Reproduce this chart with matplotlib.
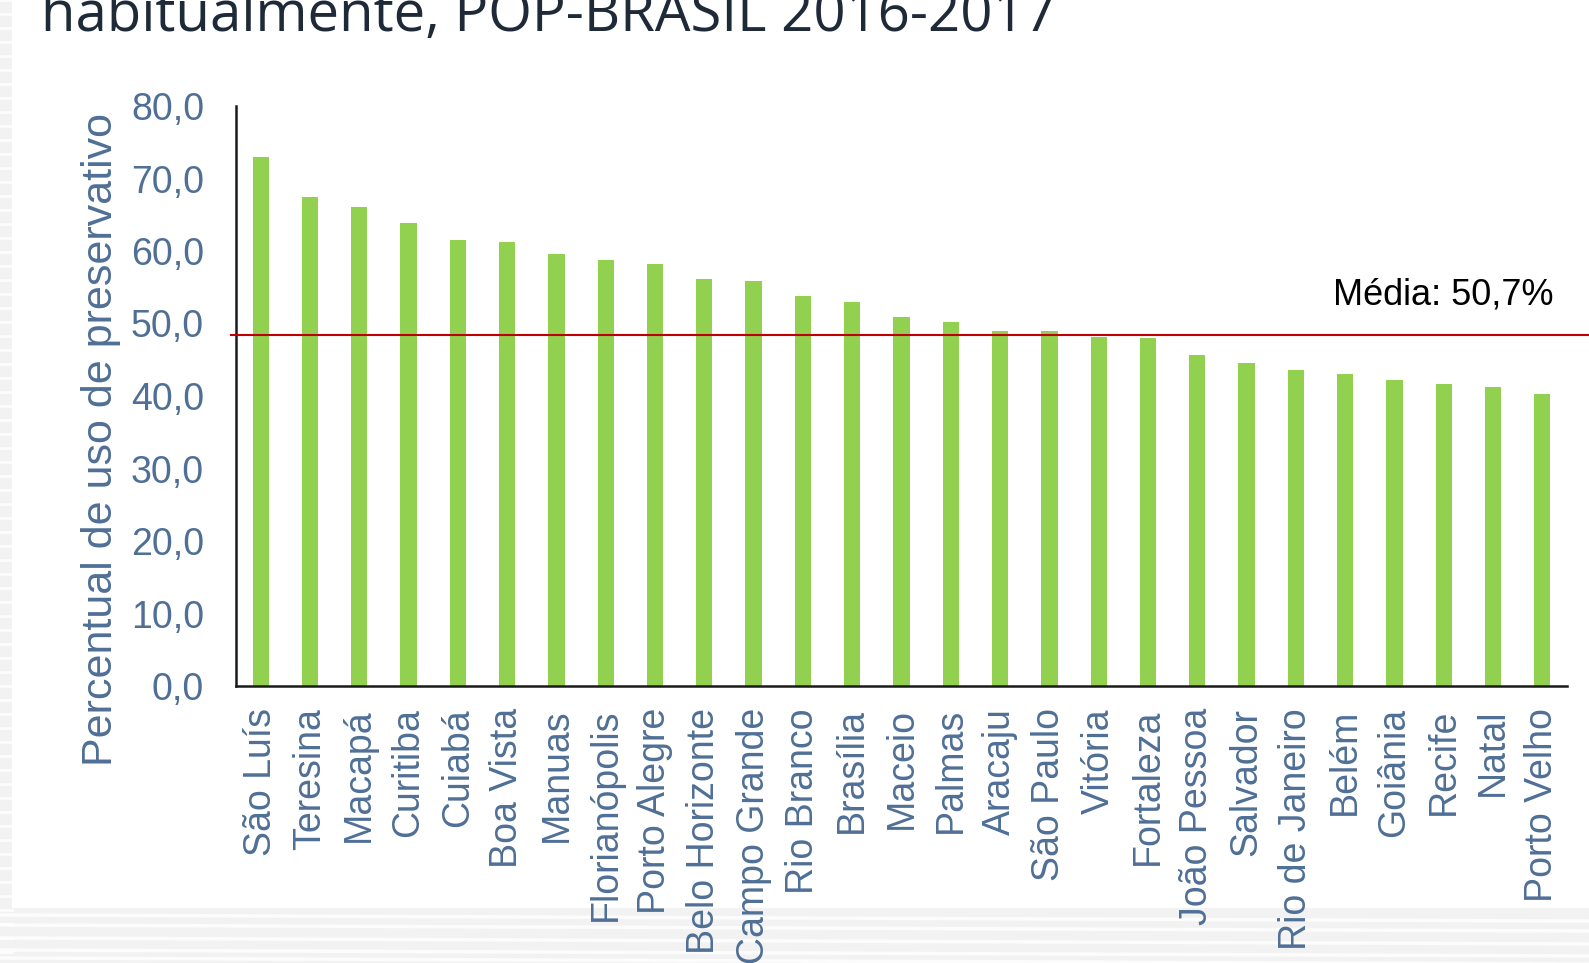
import numpy as np
import matplotlib.pyplot as plt
from matplotlib.patches import Rectangle

# data
cities = ["São Luís", "Teresina", "Macapá", "Curitiba", "Cuiabá", "Boa Vista",
          "Manuas", "Florianópolis", "Porto Alegre", "Belo Horizonte",
          "Campo Grande", "Rio Branco", "Brasília", "Maceio", "Palmas",
          "Aracaju", "São Paulo", "Vitória", "Fortaleza", "João Pessoa",
          "Salvador", "Rio de Janeiro", "Belém", "Goiânia", "Recife", "Natal",
          "Porto Velho"]
percent = [72.9, 67.4, 66.0, 63.8, 61.5, 61.3, 59.6, 58.7, 58.2, 56.2,
           55.8, 53.8, 52.9, 50.9, 50.2, 49.0, 49.0, 48.1, 48.0, 45.6,
           44.6, 43.6, 43.1, 42.2, 41.7, 41.3, 40.3]
mean_line = 48.4
mean_label = "Média: 50,7%"
yticks = [0, 10, 20, 30, 40, 50, 60, 70, 80]
title = "habitualmente, POP-BRASIL 2016-2017"
ylabel = "Percentual de uso de preservativo"

W, H = 1589, 963
blue = "#4F6F96"

plt.rcParams["font.family"] = ["Liberation Sans", "DejaVu Sans"]
fig = plt.figure(figsize=(W / 100, H / 100), dpi=100)
fig.patch.set_facecolor("#f2f2f2")

# background: textured grey margins, white slide panel (behind everything)
for yy in np.arange(0, H, 14):
    fig.add_artist(plt.Line2D([0, 12 / W], [1 - yy / H, 1 - yy / H],
                              color="white", lw=2, alpha=0.8, zorder=-2))
for yy in [915, 925, 938, 950, 958]:
    fig.add_artist(plt.Line2D([0, 1], [1 - yy / H, 1 - (yy + 6) / H],
                              color="white", lw=2.5, alpha=0.8, zorder=-2))
fig.add_artist(Rectangle((12 / W, 1 - 908 / H), 1, 908 / H,
                         transform=fig.transFigure, facecolor="white",
                         edgecolor="none", zorder=-1))

# title (cut by the top edge, as in the slide)
fig.text(41 / W, 1 - 31 / H, title, fontsize=40.5, family="Open Sans",
         color="#1e2a38", ha="left", va="baseline")

ax = fig.add_axes([236 / W, 1 - 686 / H, (1567 - 236) / W, (686 - 106) / H])
ax.patch.set_alpha(0)
x = np.arange(len(cities))
ax.bar(x, percent, width=0.33, color="#92D050", zorder=2)

ax.plot([-0.6, 27.0], [mean_line, mean_line], color="#C00000", lw=1.5,
        clip_on=False, zorder=3)
ax.text(26.22, 53.9, mean_label, fontsize=26, color="black",
        ha="right", va="center")

ax.set_xlim(-0.5, 26.5)
ax.set_ylim(0, 80)
ax.set_yticks(yticks)
ax.set_yticklabels([f"{v:.1f}".replace(".", ",") for v in yticks])
ax.set_xticks(x)
ax.set_xticklabels(cities, rotation=90)
ax.tick_params(axis="y", length=0, pad=23, labelsize=27, labelcolor=blue)
ax.tick_params(axis="x", length=0, pad=16, labelsize=27, labelcolor=blue)

for s in ["top", "right"]:
    ax.spines[s].set_visible(False)
for s in ["left", "bottom"]:
    ax.spines[s].set_color("#1a1a1a")
    ax.spines[s].set_linewidth(1.8)

fig.text(101 / W, 1 - 439 / H, ylabel, rotation=90, fontsize=31,
         color=blue, ha="center", va="center")

fig.savefig("out.png", dpi=100)
